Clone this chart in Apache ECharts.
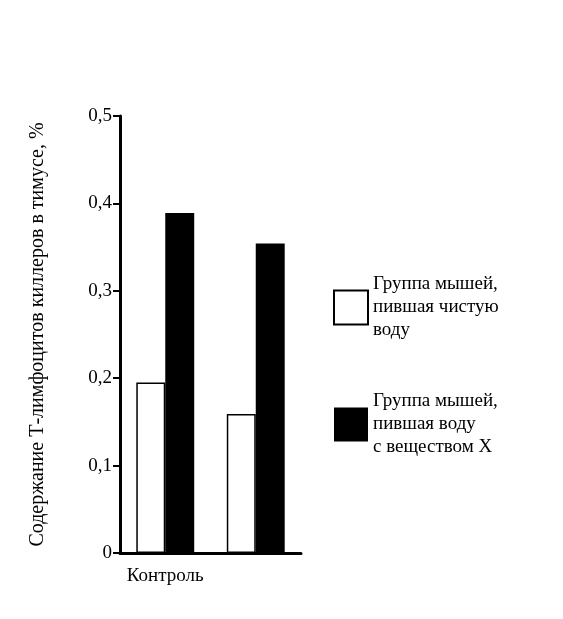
<!DOCTYPE html><html><head><meta charset="utf-8"><script src="https://cdn.jsdelivr.net/npm/echarts@6/dist/echarts.min.js"></script></head><body style="margin:0;background:#fff"><div id="c" style="width:563px;height:619px"></div><script>
const categories=['Контроль','Опухоль'];
const seriesNames=['Группа мышей,\nпившая чистую\nводу','Группа мышей,\nпившая воду\nс веществом Х'];
const cleanWater=[0.195,0.159];
const substanceX=[0.389,0.354];
const yTicks=['0','0,1','0,2','0,3','0,4','0,5'];
const F='Liberation Serif';
const ch=echarts.init(document.getElementById('c'));
ch.setOption({animation:false,
grid:{left:120,right:262,top:116,bottom:66},
legend:{orient:'vertical',left:328,top:268,itemWidth:34,itemHeight:34,itemGap:48,icon:'rect',
 textStyle:{fontFamily:F,fontSize:19,color:'#000',lineHeight:23},
 data:[{name:seriesNames[0],itemStyle:{color:'#fff',borderColor:'#000',borderWidth:2}},{name:seriesNames[1]}]},
xAxis:{type:'category',data:categories,axisLine:{lineStyle:{color:'#000',width:3}},axisTick:{show:false},
 axisLabel:{fontFamily:F,fontSize:19,color:'#000',margin:14}},
yAxis:{type:'value',min:0,max:0.5,interval:0.1,splitLine:{show:false},
 axisLine:{show:true,lineStyle:{color:'#000',width:3}},axisTick:{show:true,length:7,lineStyle:{width:2,color:'#000'}},
 axisLabel:{fontFamily:F,fontSize:19,color:'#000',formatter:(v,i)=>yTicks[i]},
 name:'Содержание Т-лимфоцитов киллеров в тимусе, %',nameLocation:'middle',nameGap:72,
 nameTextStyle:{fontFamily:F,fontSize:20,color:'#000'}},
series:[{name:seriesNames[0],type:'bar',data:cleanWater,barGap:'0%',barCategoryGap:'36%',itemStyle:{color:'#fff',borderColor:'#000',borderWidth:1.5}},
{name:seriesNames[1],type:'bar',data:substanceX,itemStyle:{color:'#000'}}]});
</script></body></html>
